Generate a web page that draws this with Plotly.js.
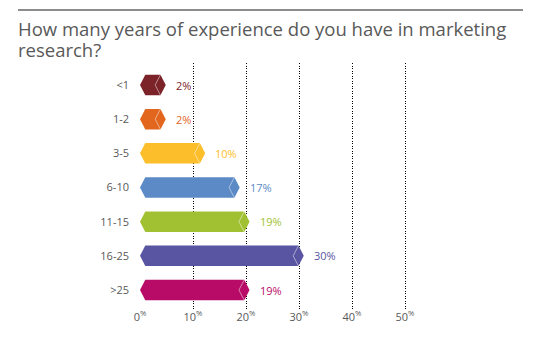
<!DOCTYPE html>
<html>
<head>
<meta charset="utf-8">
<script src="https://cdn.plot.ly/plotly-3.0.1.min.js"></script>
<style>html,body{margin:0;padding:0;background:#fff;}#chart{width:538px;height:351px;}</style>
</head>
<body>
<div id="chart"></div>
<script>
const categories = ["<1", "1-2", "3-5", "6-10", "11-15", "16-25", ">25"];
const values = [2, 2, 10, 17, 19, 30, 19];
const colors = ["#7B2329", "#E2661E", "#FDBE2C", "#5B8AC6", "#A1C132", "#5A55A2", "#B80B67"];
const tickVals = [0, 10, 20, 30, 40, 50];
const tickLabels = ["0<sup>%</sup>", "10<sup>%</sup>", "20<sup>%</sup>", "30<sup>%</sup>", "40<sup>%</sup>", "50<sup>%</sup>"];
const titleLines = ["How many years of experience do you have in marketing", "research?"];

const half = 0.30;   // half bar height (y units)
const cap = 1.0;     // pointed cap width (x units)

const L = 140, T = 63, PW = 318, PH = 246;
const px2paperX = px => (px - L) / PW;
const px2paperY = py => 1 - (py - T) / PH;

const traces = [];
const annotations = [];
values.forEach((v, i) => {
  const fe = 0.93 * v + 2;       // flat end of the bar body
  const tip = fe + cap;
  traces.push({
    type: "scatter", mode: "lines", fill: "toself",
    x: [0, cap, fe, tip, fe, cap, 0],
    y: [i, i - half, i - half, i, i + half, i + half, i],
    line: {width: 0, color: colors[i]},
    fillcolor: colors[i],
    hoverinfo: "skip", showlegend: false
  });
  traces.push({
    type: "scatter", mode: "lines",
    x: [fe, fe - cap, fe],
    y: [i - half, i, i + half],
    line: {width: 0.8, color: "rgba(255,255,255,0.6)"},
    hoverinfo: "skip", showlegend: false
  });
  annotations.push({
    x: tip, y: i, xref: "x", yref: "y",
    text: v + "%", showarrow: false,
    xanchor: "left", yanchor: "middle", xshift: 8,
    font: {family: "Open Sans, sans-serif", size: 11, color: colors[i]}
  });
});

[28.5, 49].forEach((py, k) => {
  annotations.push({
    xref: "paper", yref: "paper",
    x: px2paperX(16), y: px2paperY(py), xanchor: "left", yanchor: "middle",
    text: titleLines[k], showarrow: false,
    font: {family: "Open Sans, sans-serif", size: 18.5, color: "#595959"}
  });
});

const layout = {
  width: 538, height: 351,
  margin: {l: L, r: 538 - L - PW, t: T, b: 351 - T - PH},
  paper_bgcolor: "#fff", plot_bgcolor: "#fff",
  showlegend: false,
  xaxis: {
    range: [0, 60], tickvals: tickVals, ticktext: tickLabels,
    showgrid: true, gridcolor: "#000", gridwidth: 1, griddash: "1px,1.5px",
    zeroline: false, showline: false, ticks: "",
    tickfont: {family: "Open Sans, sans-serif", size: 11, color: "#595959"},
    fixedrange: true
  },
  yaxis: {
    range: [6.556, -0.644], tickvals: categories.map((c, i) => i), ticktext: categories,
    showgrid: false, zeroline: false, showline: false, ticks: "", ticklabelstandoff: 10,
    tickfont: {family: "Open Sans, sans-serif", size: 11, color: "#595959"},
    fixedrange: true
  },
  shapes: [{
    type: "line", xref: "paper", yref: "paper",
    x0: px2paperX(18), x1: px2paperX(523),
    y0: px2paperY(10), y1: px2paperY(10),
    line: {color: "#666", width: 1.5}
  }],
  annotations: annotations
};

Plotly.newPlot("chart", traces, layout, {displayModeBar: false, staticPlot: true});
</script>
</body>
</html>
